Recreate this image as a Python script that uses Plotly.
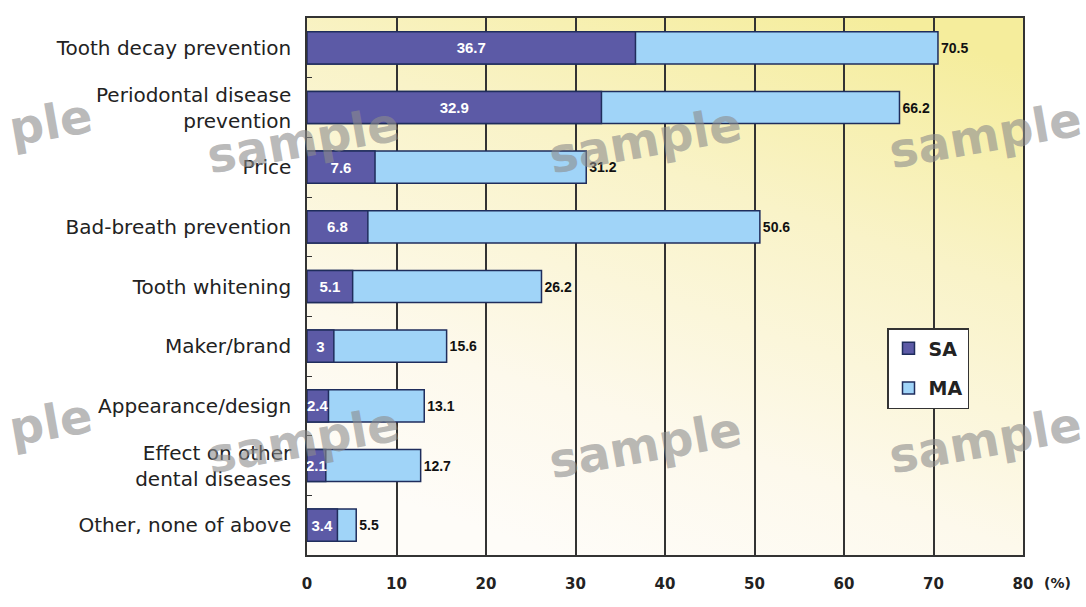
import base64
import plotly.graph_objects as go

categories = ["Tooth decay prevention", "Periodontal disease<br>prevention", "Price",
              "Bad-breath prevention", "Tooth whitening", "Maker/brand",
              "Appearance/design", "Effect on other<br>dental diseases", "Other, none of above"]
sa_values = [36.7, 32.9, 7.6, 6.8, 5.1, 3, 2.4, 2.1, 3.4]
ma_values = [70.5, 66.2, 31.2, 50.6, 26.2, 15.6, 13.1, 12.7, 5.5]
x_ticks = [0, 10, 20, 30, 40, 50, 60, 70, 80]

svg = """<svg xmlns='http://www.w3.org/2000/svg' width='100' height='100' preserveAspectRatio='none'>
<defs><linearGradient id='g' x1='0.8' y1='0' x2='0.35' y2='1'>
<stop offset='0' stop-color='#f5ed9c'/><stop offset='0.35' stop-color='#f9f3c8'/>
<stop offset='0.75' stop-color='#fdf9ec'/><stop offset='1' stop-color='#fefcf8'/></linearGradient></defs>
<rect width='100' height='100' fill='url(#g)'/></svg>"""
bg_src = "data:image/svg+xml;base64," + base64.b64encode(svg.encode()).decode()

L, R, T, B = 307, 63, 18, 52
W, H = 1086 - L - R, 607 - T - B

fig = go.Figure()
fig.add_trace(go.Bar(
    y=categories, x=ma_values, orientation="h", name="<b>MA</b>", legendrank=2, legendgroup="ma",
    marker=dict(color="#a0d4f8", line=dict(color="#1f2d5c", width=1.5)),
    width=0.54, text=[f"<b>{v}</b>" for v in ma_values], textposition="outside",
    textfont=dict(family="Liberation Sans Narrow, Liberation Sans", size=14, color="#111111"),
    cliponaxis=False,
))
fig.add_trace(go.Bar(
    y=categories, x=sa_values, orientation="h", name="<b>SA</b>", legendrank=1, legendgroup="sa",
    marker=dict(color="#5c5aa6", line=dict(color="#1f2d5c", width=1.5)),
    width=0.54, text=[f"<b>{v}</b>" for v in sa_values], textposition="inside",
    insidetextanchor="middle", constraintext="none", textangle=0,
    textfont=dict(family="Liberation Sans", size=15, color="#ffffff"),
))

annotations = [dict(x=80, y=0, xref="x", yref="paper", yshift=-28, xshift=34, yanchor="middle",
                    text="<b>(%)</b>", showarrow=False,
                    font=dict(family="DejaVu Sans", size=14, color="#222222"))]
wm_font = dict(family="DejaVu Sans", size=48, color="rgba(140,140,140,0.6)")
for (txt, px, py) in [("ple", 50, 122), ("sample", 303, 140), ("sample", 645, 140),
                      ("sample", 985, 135), ("ple", 50, 422), ("sample", 303, 440),
                      ("sample", 645, 445), ("sample", 985, 440)]:
    annotations.append(dict(x=(px - L) / W, y=(607 - B - py) / H, xref="paper", yref="paper",
                            xanchor="center", yanchor="middle",
                            text=f"<b>{txt}</b>", showarrow=False, textangle=-10, font=wm_font))

fig.update_layout(
    width=1086, height=607,
    margin=dict(l=L, r=R, t=T, b=B),
    paper_bgcolor="white", plot_bgcolor="rgba(0,0,0,0)",
    barmode="overlay",
    font=dict(family="DejaVu Sans", size=21, color="#222222"),
    legend=dict(x=(887 - L) / W, y=(607 - B - 328) / H, xanchor="left", yanchor="top",
                bgcolor="white", bordercolor="#333333", borderwidth=1.5,
                font=dict(family="DejaVu Sans", size=19, color="#222222"),
                tracegroupgap=12),
    xaxis=dict(range=[0, 80], tickvals=x_ticks, ticktext=[f"<b>{t}</b>" for t in x_ticks],
               showgrid=True, gridcolor="#333333", gridwidth=1.5,
               showline=True, linecolor="#333333", linewidth=1.5, mirror=True,
               zeroline=False, ticks="", ticklabelstandoff=14,
               tickfont=dict(family="DejaVu Sans", size=15, color="#222222")),
    yaxis=dict(autorange="reversed", showline=True, linecolor="#333333", linewidth=1.5,
               mirror=True, ticks="inside", ticklen=5, tickcolor="#333333", tickson="boundaries",
               ticklabelstandoff=10, showgrid=False,
               tickfont=dict(family="DejaVu Sans", size=20, color="#222222")),
    images=[dict(source=bg_src, xref="paper", yref="paper", x=0, y=1, sizex=1, sizey=1,
                 sizing="stretch", layer="below")],
    annotations=annotations,
    showlegend=True,
)

fig.write_html("out.html")
